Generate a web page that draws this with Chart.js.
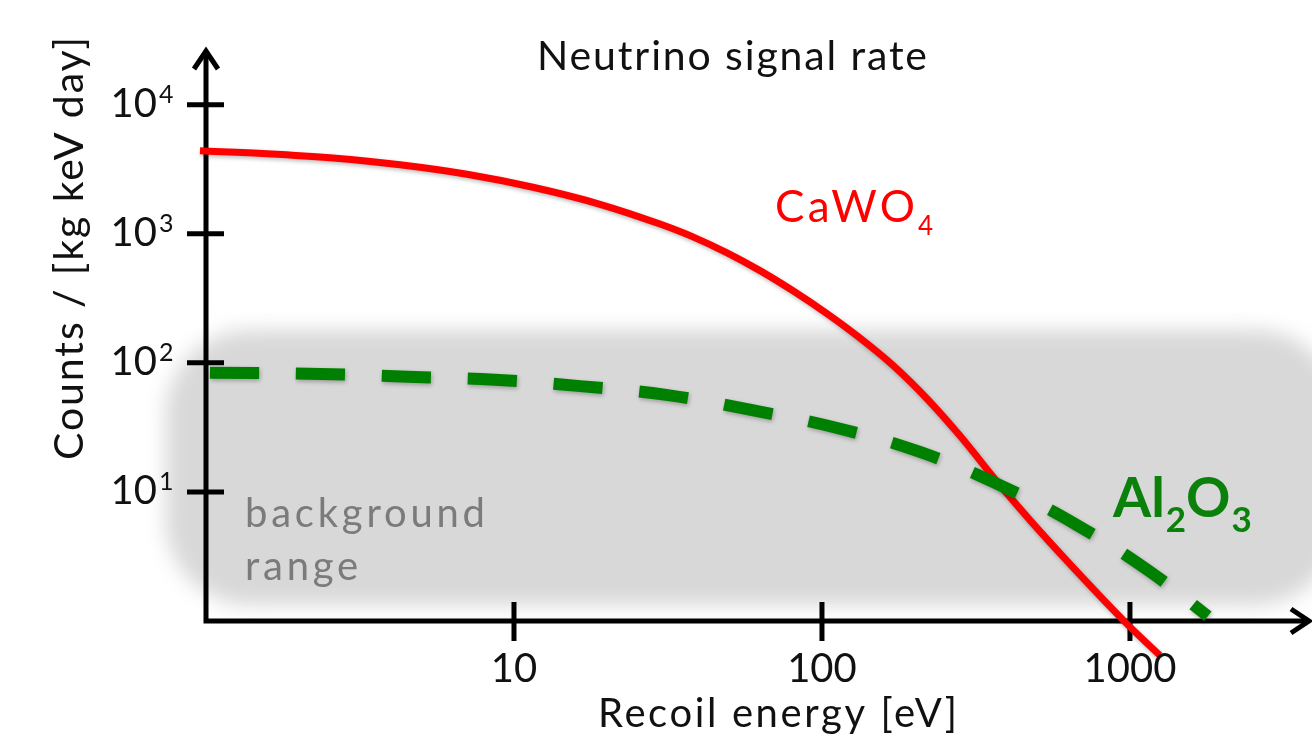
<!DOCTYPE html>
<html><head><meta charset="utf-8">
<script src="https://cdn.jsdelivr.net/npm/chart.js@4/dist/chart.umd.min.js"></script>
<style>html,body{margin:0;padding:0;background:#fff;overflow:hidden}#wrap{width:1312px;height:745px;position:relative}</style>
</head><body><div id="wrap"><canvas id="c" width="1312" height="745"></canvas></div>
<script>
// ---- data ----
const chartTitle = 'Neutrino signal rate';
const xAxisTitle = 'Recoil energy [eV]';
const yAxisTitle = 'Counts / [kg keV day]';
const xTickValues = [10, 100, 1000];
const xTickLabels = ['10', '100', '1000'];
const yTickValues = [10, 100, 1000, 10000];
const yTickBase = '10';
const yTickExponents = ['1', '2', '3', '4'];
const xRange = [1, 3900];
const yRange = [1, 27500];
const caWO4Energy = [0.956, 1.578, 2.585, 4.265, 7.04, 11.53, 19.02, 29.8, 38.1, 49.2, 62.9, 80.5, 103.8, 132.8, 170.1, 219.3, 280.6, 378, 473.5, 624.4, 977, 1250];
const caWO4Counts = [4399, 4171, 3863, 3427, 2892, 2293, 1693, 1189, 946, 711, 518, 361.5, 240.7, 155.7, 95.5, 52.7, 27.2, 11.31, 6.04, 2.92, 0.95, 0.542];
const al2O3Energy = [1.03, 2.36, 4.53, 8.67, 16.4, 31.2, 58.8, 112, 208, 378, 663, 1143, 1790];
const al2O3Counts = [84, 82, 78, 74, 66, 56.5, 43.2, 31.3, 20.4, 11.3, 5.65, 2.48, 1.09];
const backgroundEnergy = [0.74, 4800];
const backgroundCounts = [1.33, 180];
const backgroundLabel = ['background', 'range'];

const FONT = 'Lato, "Open Sans", sans-serif';

function drawFit(ctx, text, left, baseline, target) {
  ctx.letterSpacing = '0px';
  const w = ctx.measureText(text).width;
  const n = text.length;
  const sp = n > 1 ? (target - w) / (n - 1) : 0;
  ctx.letterSpacing = sp + 'px';
  ctx.textAlign = 'left';
  ctx.fillText(text, left, baseline);
  ctx.letterSpacing = '0px';
  return sp;
}

const decor = {
  id: 'decor',
  beforeDatasetsDraw(chart) {
    const { ctx, scales: { x, y } } = chart;
    // background range
    const bx0 = x.getPixelForValue(backgroundEnergy[0]);
    const bx1 = x.getPixelForValue(backgroundEnergy[1]);
    const by0 = y.getPixelForValue(backgroundCounts[1]);
    const by1 = y.getPixelForValue(backgroundCounts[0]);
    ctx.save();
    ctx.filter = 'blur(10px)';
    ctx.fillStyle = '#d8d8d8';
    ctx.beginPath();
    ctx.roundRect(bx0, by0, bx1 - bx0, by1 - by0, 85);
    ctx.fill();
    ctx.restore();

    // axes
    const ox = x.getPixelForValue(xRange[0]);
    const oy = y.getPixelForValue(yRange[0]);
    const xEnd = x.getPixelForValue(xRange[1]);
    const yEnd = y.getPixelForValue(yRange[1]);
    ctx.save();
    ctx.strokeStyle = '#000';
    ctx.lineWidth = 5;
    ctx.lineJoin = 'miter';
    ctx.lineCap = 'butt';
    ctx.beginPath();
    ctx.moveTo(ox, yEnd + 3);
    ctx.lineTo(ox, oy);
    ctx.lineTo(xEnd - 3, oy);
    ctx.stroke();
    ctx.beginPath();
    ctx.moveTo(ox - 12, yEnd + 21); ctx.lineTo(ox, yEnd + 3); ctx.lineTo(ox + 12, yEnd + 21);
    ctx.moveTo(xEnd - 21, oy - 12); ctx.lineTo(xEnd - 3, oy); ctx.lineTo(xEnd - 21, oy + 12);
    ctx.stroke();
    // ticks
    ctx.beginPath();
    yTickValues.forEach(v => {
      const py = y.getPixelForValue(v);
      ctx.moveTo(ox - 19, py); ctx.lineTo(ox + 18, py);
    });
    xTickValues.forEach(v => {
      const px = x.getPixelForValue(v);
      ctx.moveTo(px, oy - 19); ctx.lineTo(px, oy + 20);
    });
    ctx.stroke();
    ctx.restore();
  },
  beforeDatasetDraw(chart) {
    const ctx = chart.ctx;
    ctx.save();
    ctx.shadowColor = 'rgba(0,0,0,0.28)';
    ctx.shadowBlur = 4;
    ctx.shadowOffsetX = 1;
    ctx.shadowOffsetY = 2;
  },
  afterDatasetDraw(chart) {
    chart.ctx.restore();
  },
  afterDraw(chart) {
    const { ctx, scales: { x, y } } = chart;
    const oy = y.getPixelForValue(yRange[0]);
    ctx.save();
    ctx.textBaseline = 'alphabetic';
    ctx.fillStyle = '#111';
    // title
    ctx.font = '41px ' + FONT;
    drawFit(ctx, chartTitle, 537, 70, 390);
    // x title
    ctx.font = '40px ' + FONT;
    drawFit(ctx, xAxisTitle, 598, 727, 359);
    // y title
    ctx.save();
    ctx.translate(83, 460);
    ctx.rotate(-Math.PI / 2);
    ctx.font = '41px ' + FONT;
    drawFit(ctx, yAxisTitle, 0, 0, 423);
    ctx.restore();
    // x tick labels
    ctx.font = '40px ' + FONT;
    ctx.textAlign = 'center';
    xTickValues.forEach((v, i) => {
      ctx.fillText(xTickLabels[i], x.getPixelForValue(v), oy + 61);
    });
    // y tick labels
    yTickValues.forEach((v, i) => {
      const py = y.getPixelForValue(v);
      ctx.font = '40px ' + FONT;
      ctx.textAlign = 'right';
      ctx.fillText(yTickBase, 157, py + 12);
      ctx.font = '25px ' + FONT;
      ctx.textAlign = 'left';
      ctx.fillText(yTickExponents[i], 159, py - 2);
    });
    // background label
    ctx.fillStyle = '#7b7b7b';
    ctx.font = '40px ' + FONT;
    const sp = drawFit(ctx, backgroundLabel[0], 245, 527, 240);
    ctx.letterSpacing = sp + 'px';
    ctx.textAlign = 'left';
    ctx.fillText(backgroundLabel[1], 245, 580);
    ctx.letterSpacing = '0px';
    // CaWO4 label
    ctx.fillStyle = '#ff0000';
    ctx.font = '44px ' + FONT;
    drawFit(ctx, 'CaWO', 775, 222, 140);
    ctx.font = '26px ' + FONT;
    ctx.textAlign = 'left';
    ctx.fillText('4', 918, 235);
    // Al2O3 label
    ctx.fillStyle = '#0b800b';
    let lx = 1113;
    ctx.textAlign = 'left';
    ctx.font = 'bold 55px ' + FONT;
    ctx.fillText('Al', lx, 517); lx += ctx.measureText('Al').width + 1;
    ctx.font = 'bold 35px ' + FONT;
    ctx.fillText('2', lx, 532); lx += ctx.measureText('2').width;
    ctx.font = 'bold 55px ' + FONT;
    ctx.fillText('O', lx, 517); lx += ctx.measureText('O').width + 1;
    ctx.font = 'bold 35px ' + FONT;
    ctx.fillText('3', lx, 532);
    ctx.restore();
  }
};

const toPts = (xs, ys) => xs.map((v, i) => ({ x: v, y: ys[i] }));

new Chart(document.getElementById('c'), {
  type: 'line',
  data: {
    datasets: [
      {
        label: 'Al2O3',
        data: toPts(al2O3Energy, al2O3Counts),
        borderColor: '#008000',
        borderWidth: 12,
        borderDash: [49, 37],
        borderCapStyle: 'butt',
        pointRadius: 0,
        tension: 0.4,
        clip: false,
        fill: false
      },
      {
        label: 'CaWO4',
        data: toPts(caWO4Energy, caWO4Counts),
        borderColor: '#ff0000',
        borderWidth: 7,
        pointRadius: 0,
        cubicInterpolationMode: 'monotone',
        clip: false,
        fill: false
      }
    ]
  },
  options: {
    responsive: false,
    animation: false,
    devicePixelRatio: 1,
    layout: { padding: { left: 206, right: 0, top: 48, bottom: 124 } },
    plugins: { legend: { display: false }, tooltip: { enabled: false }, title: { display: false } },
    scales: {
      x: { type: 'logarithmic', min: xRange[0], max: xRange[1], display: false },
      y: { type: 'logarithmic', min: yRange[0], max: yRange[1], display: false }
    }
  },
  plugins: [decor]
});
</script>
</body></html>
